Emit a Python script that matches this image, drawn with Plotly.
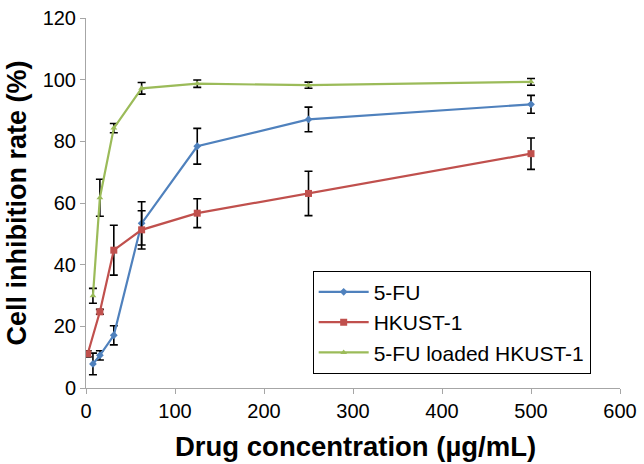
import plotly.graph_objects as go

# ── Data ──────────────────────────────────────────────────────────────────────
conc_5fu = [7.8, 15.6, 31.25, 62.5, 125, 250, 500]
rate_5fu = [7.8, 10.6, 17.1, 53.4, 78.4, 87.1, 92.0]
err_5fu = [3.5, 1.5, 3.1, 7.0, 5.8, 4.0, 2.9]

conc_hkust = [1.95, 15.6, 31.25, 62.5, 125, 250, 500]
rate_hkust = [11.1, 24.7, 44.7, 51.3, 56.7, 63.1, 76.0]
err_hkust = [1.0, 0.8, 8.1, 6.2, 4.7, 7.2, 5.1]

conc_loaded = [7.8, 15.6, 31.25, 62.5, 125, 250, 500]
rate_loaded = [29.9, 61.7, 84.3, 97.2, 98.7, 98.2, 99.3]
err_loaded = [2.4, 6.0, 1.5, 1.9, 1.2, 1.0, 1.1]

X_TITLE = "Drug concentration (µg/mL)"
Y_TITLE = "Cell inhibition rate (%)"

# ── Style ─────────────────────────────────────────────────────────────────────
BLUE = "#4F81BD"
RED = "#C0504D"
GREEN = "#9BBB59"
AXIS_GREY = "#A6A6A6"
FONT = "Arial, Liberation Sans, sans-serif"

fig = go.Figure()

for x, y, err, name, color, symbol, size in [
    (conc_5fu, rate_5fu, err_5fu, "5-FU", BLUE, "diamond", 6),
    (conc_hkust, rate_hkust, err_hkust, "HKUST-1", RED, "square", 7),
    (conc_loaded, rate_loaded, err_loaded, "5-FU loaded HKUST-1", GREEN, "triangle-up", 6),
]:
    fig.add_trace(go.Scatter(
        x=x, y=y, name=name, mode="lines+markers",
        line=dict(color=color, width=2.2),
        marker=dict(color=color, symbol=symbol, size=size),
        error_y=dict(type="data", array=err, color="black",
                     thickness=1.6, width=4),
    ))

fig.update_layout(
    width=644, height=464,
    paper_bgcolor="white", plot_bgcolor="white",
    margin=dict(l=86, r=18, t=7, b=76),
    font=dict(family=FONT, color="black", size=20),
    showlegend=True,
    legend=dict(
        x=0.4245, y=0.317, xanchor="left", yanchor="top",
        bgcolor="white", bordercolor="black", borderwidth=1,
        font=dict(size=21), itemwidth=50, tracegroupgap=0,
    ),
)

# axis titles as annotations so they sit where the reference puts them
fig.add_annotation(
    text=f"<b>{X_TITLE}</b>", xref="paper", yref="paper",
    x=0.5056, y=-0.158, xanchor="center", yanchor="middle",
    showarrow=False, font=dict(size=27.5),
)
fig.add_annotation(
    text=f"<b>{Y_TITLE}</b>", xref="paper", yref="paper",
    x=-0.1295, y=0.501, xanchor="center", yanchor="middle",
    textangle=-90, showarrow=False, font=dict(size=27),
)

fig.update_xaxes(
    range=[0, 600], dtick=100, showgrid=False, zeroline=False,
    showline=True, linecolor=AXIS_GREY, linewidth=1,
    ticks="outside", ticklen=5, tickcolor=AXIS_GREY,
    tickfont=dict(size=20), ticklabeloverflow="allow",
)
fig.update_yaxes(
    range=[0, 120], dtick=20, showgrid=False, zeroline=False,
    showline=True, linecolor=AXIS_GREY, linewidth=1,
    ticks="outside", ticklen=5, tickcolor=AXIS_GREY,
    tickfont=dict(size=20), ticklabeloverflow="allow",
)

# page body has an 8px default margin; drop it so the figure fills the window
fig.write_html("out.html", config={"displayModeBar": False},
               post_script="document.body.style.margin='0';")
